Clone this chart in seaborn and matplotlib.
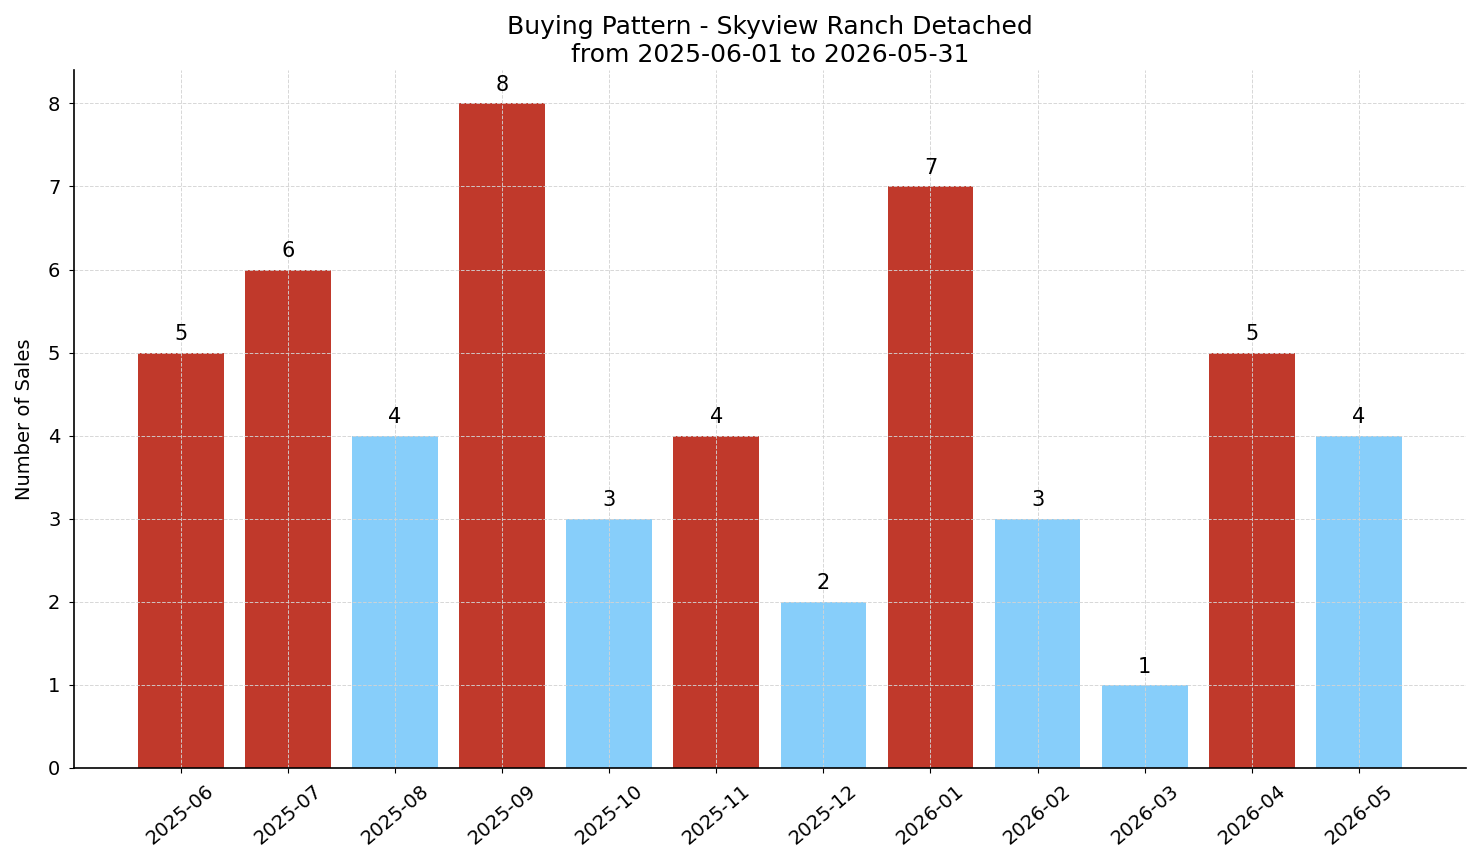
import seaborn as sns
import matplotlib.pyplot as plt
import pandas as pd

months = ['2025-06', '2025-07', '2025-08', '2025-09', '2025-10', '2025-11',
          '2025-12', '2026-01', '2026-02', '2026-03', '2026-04', '2026-05']
sales = [5, 6, 4, 8, 3, 4, 2, 7, 3, 1, 5, 4]
bar_colors = ['#c0392b', '#c0392b', '#87cefa', '#c0392b', '#87cefa', '#c0392b',
              '#87cefa', '#c0392b', '#87cefa', '#87cefa', '#c0392b', '#87cefa']

df = pd.DataFrame({'month': months, 'sales': sales})

fig, ax = plt.subplots(figsize=(14.81, 8.63), dpi=100)
sns.barplot(data=df, x='month', y='sales', hue='month', palette=bar_colors,
            legend=False, width=0.8, saturation=1, ax=ax)

# value labels on top of bars
for i, v in enumerate(sales):
    ax.text(i, v + 0.1, str(v), ha='center', va='bottom', fontsize=15)

ax.set_xlim(-1, len(months))
ax.set_ylim(0, max(sales) * 1.05)
ax.grid(True, linestyle='--', color='lightgray', alpha=0.9, linewidth=0.7)
ax.spines['top'].set_visible(False)
ax.spines['right'].set_visible(False)
for s in ['left', 'bottom']:
    ax.spines[s].set_linewidth(1.2)
ax.tick_params(axis='x', labelrotation=40, labelsize=14, pad=6)
ax.tick_params(axis='y', labelsize=14, pad=6)
ax.set_xlabel('')
ax.set_ylabel('Number of Sales', fontsize=14, labelpad=10)
ax.set_title('Buying Pattern - Skyview Ranch Detached\nfrom 2025-06-01 to 2026-05-31', fontsize=18)

plt.tight_layout()
plt.savefig('out.png')
